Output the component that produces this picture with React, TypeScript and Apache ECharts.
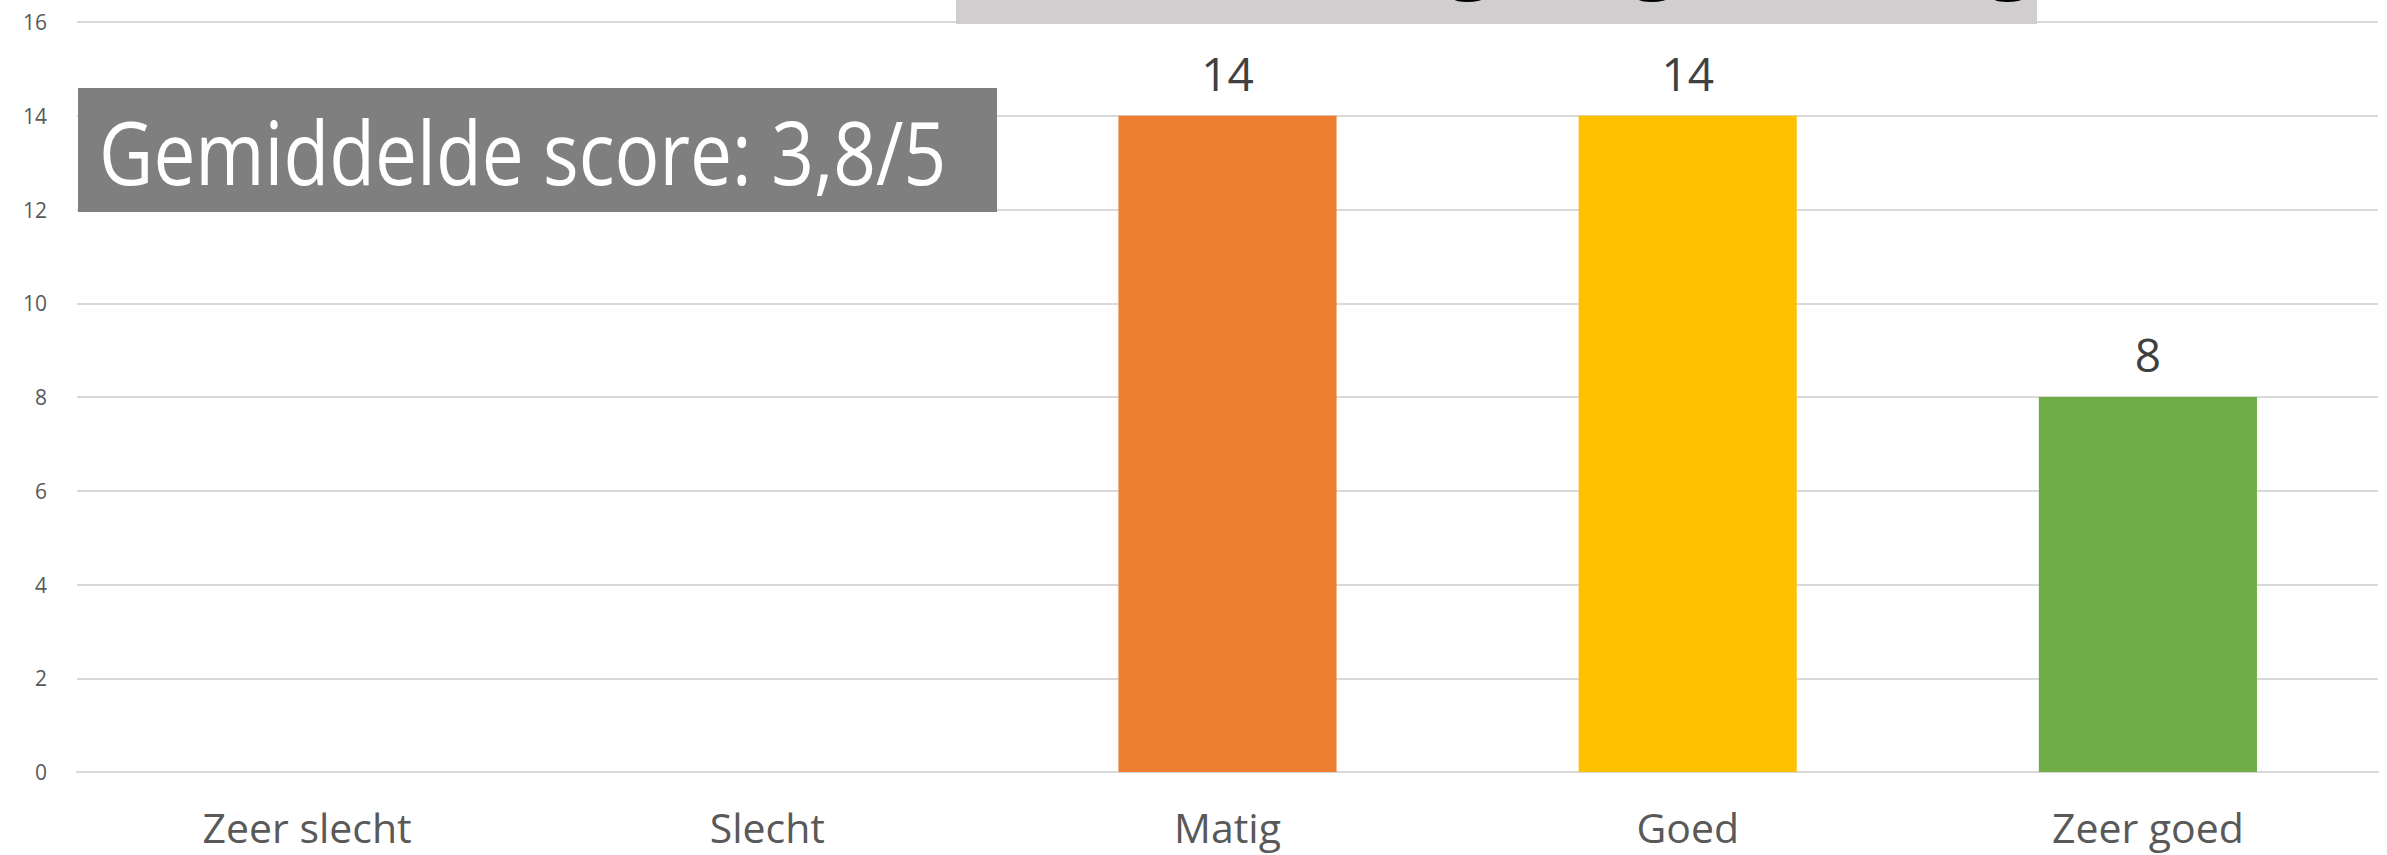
import React, { useEffect, useRef } from "react";
import * as echarts from "echarts";

const categories = ["Zeer slecht", "Slecht", "Matig", "Goed", "Zeer goed"];
const values: (number | null)[] = [null, null, 14, 14, 8];
const barColors = ["#5B9BD5", "#A5A5A5", "#ED7D31", "#FFC000", "#70AD47"];
const yTicks = { min: 0, max: 16, interval: 2 };
const averageText = "Gemiddelde score: 3,8/5";
const titleText = "Beoordeling begeleiding";

export default function App() {
  const ref = useRef<HTMLDivElement>(null);
  useEffect(() => {
    document.body.style.margin = "0";
    if (!ref.current) return;
    const chart = echarts.init(ref.current, null, { renderer: "svg" });
    const font = "'Open Sans', 'Noto Sans', sans-serif";
    chart.setOption({
      animation: false,
      backgroundColor: "#ffffff",
      textStyle: { fontFamily: font },
      grid: { left: 77, right: 9, top: 22, bottom: 83, containLabel: false },
      xAxis: {
        type: "category",
        data: categories,
        axisLine: { show: true, lineStyle: { color: "#d9d9d9", width: 2 } },
        axisTick: { show: false },
        axisLabel: { color: "#595959", fontSize: 41, margin: 34, fontFamily: font },
      },
      yAxis: {
        type: "value",
        min: yTicks.min,
        max: yTicks.max,
        interval: yTicks.interval,
        axisLine: { show: false },
        axisTick: { show: false },
        splitLine: { show: true, lineStyle: { color: "#d9d9d9", width: 2 } },
        axisLabel: { color: "#595959", fontSize: 21, margin: 30, fontFamily: font },
      },
      series: [
        {
          type: "bar",
          barWidth: "47.4%",
          data: values.map((v, i) => ({ value: v, itemStyle: { color: barColors[i] } })),
          label: {
            show: true,
            position: "top",
            distance: 20,
            color: "#404040",
            fontSize: 46,
            fontFamily: font,
            formatter: (p: any) => (p.value == null || p.value === 0 ? "" : String(p.value)),
          },
        },
      ],
      graphic: [
        {
          type: "rect",
          x: 956,
          y: 0,
          shape: { width: 1081, height: 24 },
          style: { fill: "#d0cece" },
          z: 10,
        },
        {
          type: "text",
          x: 1496,
          y: -10,
          z: 11,
          style: {
            text: titleText,
            fill: "#000000",
            font: `bold 90px ${font}`,
            textAlign: "center",
            textVerticalAlign: "bottom",
          },
        },
        {
          type: "rect",
          x: 78,
          y: 88,
          shape: { width: 919, height: 124 },
          style: { fill: "#7f7f7f" },
          z: 10,
        },
        {
          type: "text",
          x: 99,
          y: 151,
          scaleX: 0.85,
          z: 11,
          style: {
            text: averageText,
            fill: "#ffffff",
            font: `88px ${font}`,
            textAlign: "left",
            textVerticalAlign: "middle",
          },
        },
      ],
    });
    return () => chart.dispose();
  }, []);
  return <div ref={ref} style={{ width: 2387, height: 855 }} />;
}
